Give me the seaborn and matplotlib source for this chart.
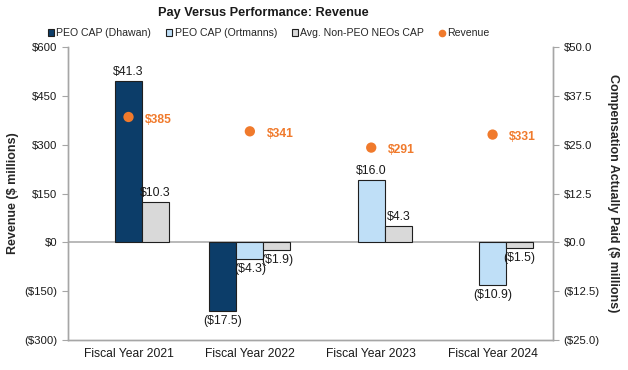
import numpy as np
import pandas as pd
import seaborn as sns
import matplotlib
matplotlib.use("Agg")
import matplotlib.pyplot as plt
from matplotlib.lines import Line2D
from matplotlib.patches import Patch

years = ["Fiscal Year 2021", "Fiscal Year 2022", "Fiscal Year 2023", "Fiscal Year 2024"]
revenue = [385, 341, 291, 331]
cap_dhawan = [41.3, -17.5, np.nan, np.nan]
cap_ortmanns = [np.nan, -4.3, 16.0, -10.9]
cap_neo = [10.3, -1.9, 4.3, -1.5]

series = ["PEO CAP (Dhawan)", "PEO CAP (Ortmanns)", "Avg. Non-PEO NEOs CAP"]
colors = {"PEO CAP (Dhawan)": "#0C3D69",
          "PEO CAP (Ortmanns)": "#BFDFF7",
          "Avg. Non-PEO NEOs CAP": "#D9D9D9"}
orange = "#F07A2C"
grey = "#A6A6A6"
bar_w = 0.223

sns.set_theme(style="white")
plt.rcParams['font.family'] = ['Liberation Sans', 'DejaVu Sans']

# bar positions: the PEO bar(s) sit at / left of the category centre, NEO to the right
rows = []
for i, yr in enumerate(years):
    both = not np.isnan(cap_dhawan[i]) and not np.isnan(cap_ortmanns[i])
    if not np.isnan(cap_dhawan[i]):
        rows.append((yr, series[0], cap_dhawan[i], i - bar_w if both else i))
    if not np.isnan(cap_ortmanns[i]):
        rows.append((yr, series[1], cap_ortmanns[i], i))
    rows.append((yr, series[2], cap_neo[i], i + bar_w))
bars = pd.DataFrame(rows, columns=["year", "series", "cap", "pos"])
rev = pd.DataFrame({"year": years, "revenue": revenue, "pos": np.arange(len(years))})

fig = plt.figure(figsize=(6.28, 3.70), dpi=100)
ax = fig.add_axes([0.108, 0.081, 0.773, 0.792])
ax2 = ax.twinx()
ax.set_zorder(ax2.get_zorder() + 1)
ax.patch.set_visible(False)

for _, r in bars.iterrows():
    ax2.bar(r["pos"], r["cap"], width=bar_w, color=colors[r["series"]],
            edgecolor="#1F1F1F", linewidth=0.8, zorder=2)
    lab = f"${r['cap']:.1f}" if r["cap"] >= 0 else f"(${-r['cap']:.1f})"
    ax2.annotate(lab, (r["pos"], r["cap"]), xytext=(0, 2 if r["cap"] >= 0 else -3),
                 textcoords="offset points", ha="center",
                 va="bottom" if r["cap"] >= 0 else "top", fontsize=8.8, color="#1A1A1A")
ax2.axhline(0, color=grey, lw=1.1, zorder=1)

sns.scatterplot(data=rev, x="pos", y="revenue", ax=ax, color=orange, s=55,
                edgecolor="none", zorder=5, legend=False)
for _, r in rev.iterrows():
    ax.annotate(f"${r['revenue']:.0f}", (r["pos"], r["revenue"]), xytext=(12, -2),
                textcoords="offset points", ha="left", va="center",
                fontsize=8.7, fontweight="bold", color=orange)

ax.set_xlim(-0.5, len(years) - 0.5)
ax.set_ylim(-300, 600)
ax2.set_ylim(-25, 50)
ax.set_yticks(np.arange(-300, 601, 150))
ax2.set_yticks(np.arange(-25, 50.1, 12.5))
ax.set_yticklabels([f"${v:,.0f}" if v >= 0 else f"(${-v:,.0f})" for v in ax.get_yticks()])
ax2.set_yticklabels([f"${v:.1f}" if v >= 0 else f"(${-v:.1f})" for v in ax2.get_yticks()])
ax.set_xticks(range(len(years)))
ax.set_xticklabels(years, fontsize=8.7, color="#1A1A1A")
ax.set_xlabel("")
ax.set_ylabel("Revenue ($ millions)", fontsize=9, fontweight="bold", labelpad=4)
ax2.set_ylabel("Compensation Actually Paid ($ millions)", fontsize=9, fontweight="bold",
               rotation=-90, labelpad=14)

for a in (ax, ax2):
    a.tick_params(axis="y", labelsize=8.2, colors="#1A1A1A", length=4, width=0.8,
                  direction="out", color=grey)
    for s in a.spines.values():
        s.set_color(grey)
        s.set_linewidth(1.0)
    a.spines["top"].set_visible(False)
ax.tick_params(axis="x", length=0, pad=6)
ax.tick_params(axis="y", left=True)
ax2.tick_params(axis="y", right=True)

fig.text(0.42, 0.965, "Pay Versus Performance: Revenue", ha="center", va="center",
         fontsize=9.2, fontweight="bold", color="#1A1A1A")

handles = [Patch(facecolor=colors[s], edgecolor="#1F1F1F", linewidth=0.8, label=s) for s in series]
handles.append(Line2D([], [], marker="o", color="none", markerfacecolor=orange,
                      markeredgecolor="none", markersize=5.5, label="Revenue"))
fig.legend(handles=handles, loc="center", bbox_to_anchor=(0.428, 0.91), ncol=4,
           frameon=False, fontsize=7.6, handlelength=0.6, handleheight=0.6,
           handletextpad=0.2, columnspacing=1.4)

fig.savefig("out.png", dpi=100)
